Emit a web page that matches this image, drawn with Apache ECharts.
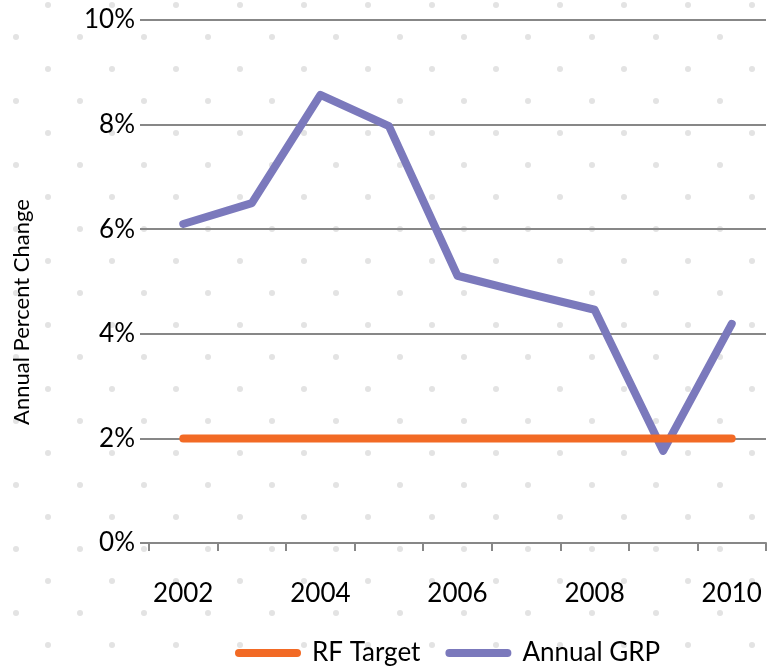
<!DOCTYPE html>
<html>
<head>
<meta charset="utf-8">
<script src="https://cdn.jsdelivr.net/npm/echarts@6/dist/echarts.min.js"></script>
<style>
  html, body { margin: 0; padding: 0; background: #fff; }
  #chart { width: 767px; height: 669px; }
</style>
</head>
<body>
<div id="chart"></div>
<script>
// Years on the horizontal axis
var years = ['2002', '2003', '2004', '2005', '2006', '2007', '2008', '2009', '2010'];
// Annual growth of gross regional product, percent
var annualGRP = [6.10, 6.50, 8.57, 7.97, 5.11, 4.78, 4.46, 1.76, 4.19];
// Target rate, percent
var rfTarget = [2, 2, 2, 2, 2, 2, 2, 2, 2];
// Value axis ticks (percent)
var yTicks = [0, 2, 4, 6, 8, 10];
var yTitle = 'Annual Percent Change';

var FONT = 'Lato';

// Staggered dot pattern for the page background
function dotTile() {
  var c = document.createElement('canvas');
  c.width = 64; c.height = 64;
  var ctx = c.getContext('2d');
  ctx.fillStyle = '#e3e3e3';
  [[48, 5], [16, 37], [48, 69], [112, 5], [-16, 37], [48, -59]].forEach(function (p) {
    ctx.beginPath();
    ctx.arc(p[0], p[1], 3, 0, Math.PI * 2);
    ctx.fill();
  });
  return c;
}

var chart = echarts.init(document.getElementById('chart'), null, { renderer: 'canvas' });

var pill = 'path://M4,0 H62 A4,4 0 0 1 62,8 H4 A4,4 0 0 1 4,0 Z';

chart.setOption({
  backgroundColor: '#ffffff',
  animation: false,
  graphic: [
    {
      type: 'rect',
      z: -100,
      silent: true,
      shape: { x: 0, y: 0, width: 767, height: 669 },
      style: { fill: { image: dotTile(), repeat: 'repeat' } }
    },
    {
      // value axis title, rotated to read bottom-to-top
      type: 'text',
      x: 22,
      y: 312,
      rotation: Math.PI / 2,
      silent: true,
      style: {
        text: yTitle,
        fontFamily: FONT,
        fontSize: 22,
        fill: '#000',
        align: 'center',
        verticalAlign: 'middle'
      }
    }
  ],
  grid: { left: 149, right: 1, top: 20, bottom: 126, containLabel: false },
  legend: {
    top: 640,
    left: 235,
    padding: 0,
    itemWidth: 66,
    itemHeight: 8,
    itemGap: 25,
    data: [
      { name: 'RF Target', icon: pill },
      { name: 'Annual GRP', icon: pill }
    ],
    textStyle: { fontFamily: FONT, fontSize: 26, color: '#000', padding: [0, 0, 0, 6] }
  },
  xAxis: {
    type: 'category',
    data: years,
    boundaryGap: true,
    axisLine: { show: true, lineStyle: { color: '#878787', width: 2 } },
    axisTick: { show: true, interval: 0, length: 8, lineStyle: { color: '#878787', width: 2 } },
    axisLabel: { interval: 1, margin: 38, fontFamily: FONT, fontSize: 26, color: '#000' },
    splitLine: { show: false }
  },
  yAxis: {
    type: 'value',
    min: yTicks[0],
    max: yTicks[yTicks.length - 1],
    interval: 2,
    axisLine: { show: false },
    axisTick: { show: true, length: 9, lineStyle: { color: '#878787', width: 2 } },
    axisLabel: {
      margin: 14, fontFamily: FONT, fontSize: 26, color: '#000',
      formatter: function (v) { return v + '%'; }
    },
    splitLine: { show: true, lineStyle: { color: '#878787', width: 2 } }
  },
  series: [
    {
      name: 'Annual GRP',
      type: 'line',
      data: annualGRP,
      showSymbol: false,
      symbol: 'none',
      z: 3,
      itemStyle: { color: '#7b79bc' },
      lineStyle: { color: '#7b79bc', width: 8, cap: 'round', join: 'round' }
    },
    {
      name: 'RF Target',
      type: 'line',
      data: rfTarget,
      showSymbol: false,
      symbol: 'none',
      z: 4,
      itemStyle: { color: '#f26a25' },
      lineStyle: { color: '#f26a25', width: 8, cap: 'round', join: 'round' }
    }
  ]
});
</script>
</body>
</html>
